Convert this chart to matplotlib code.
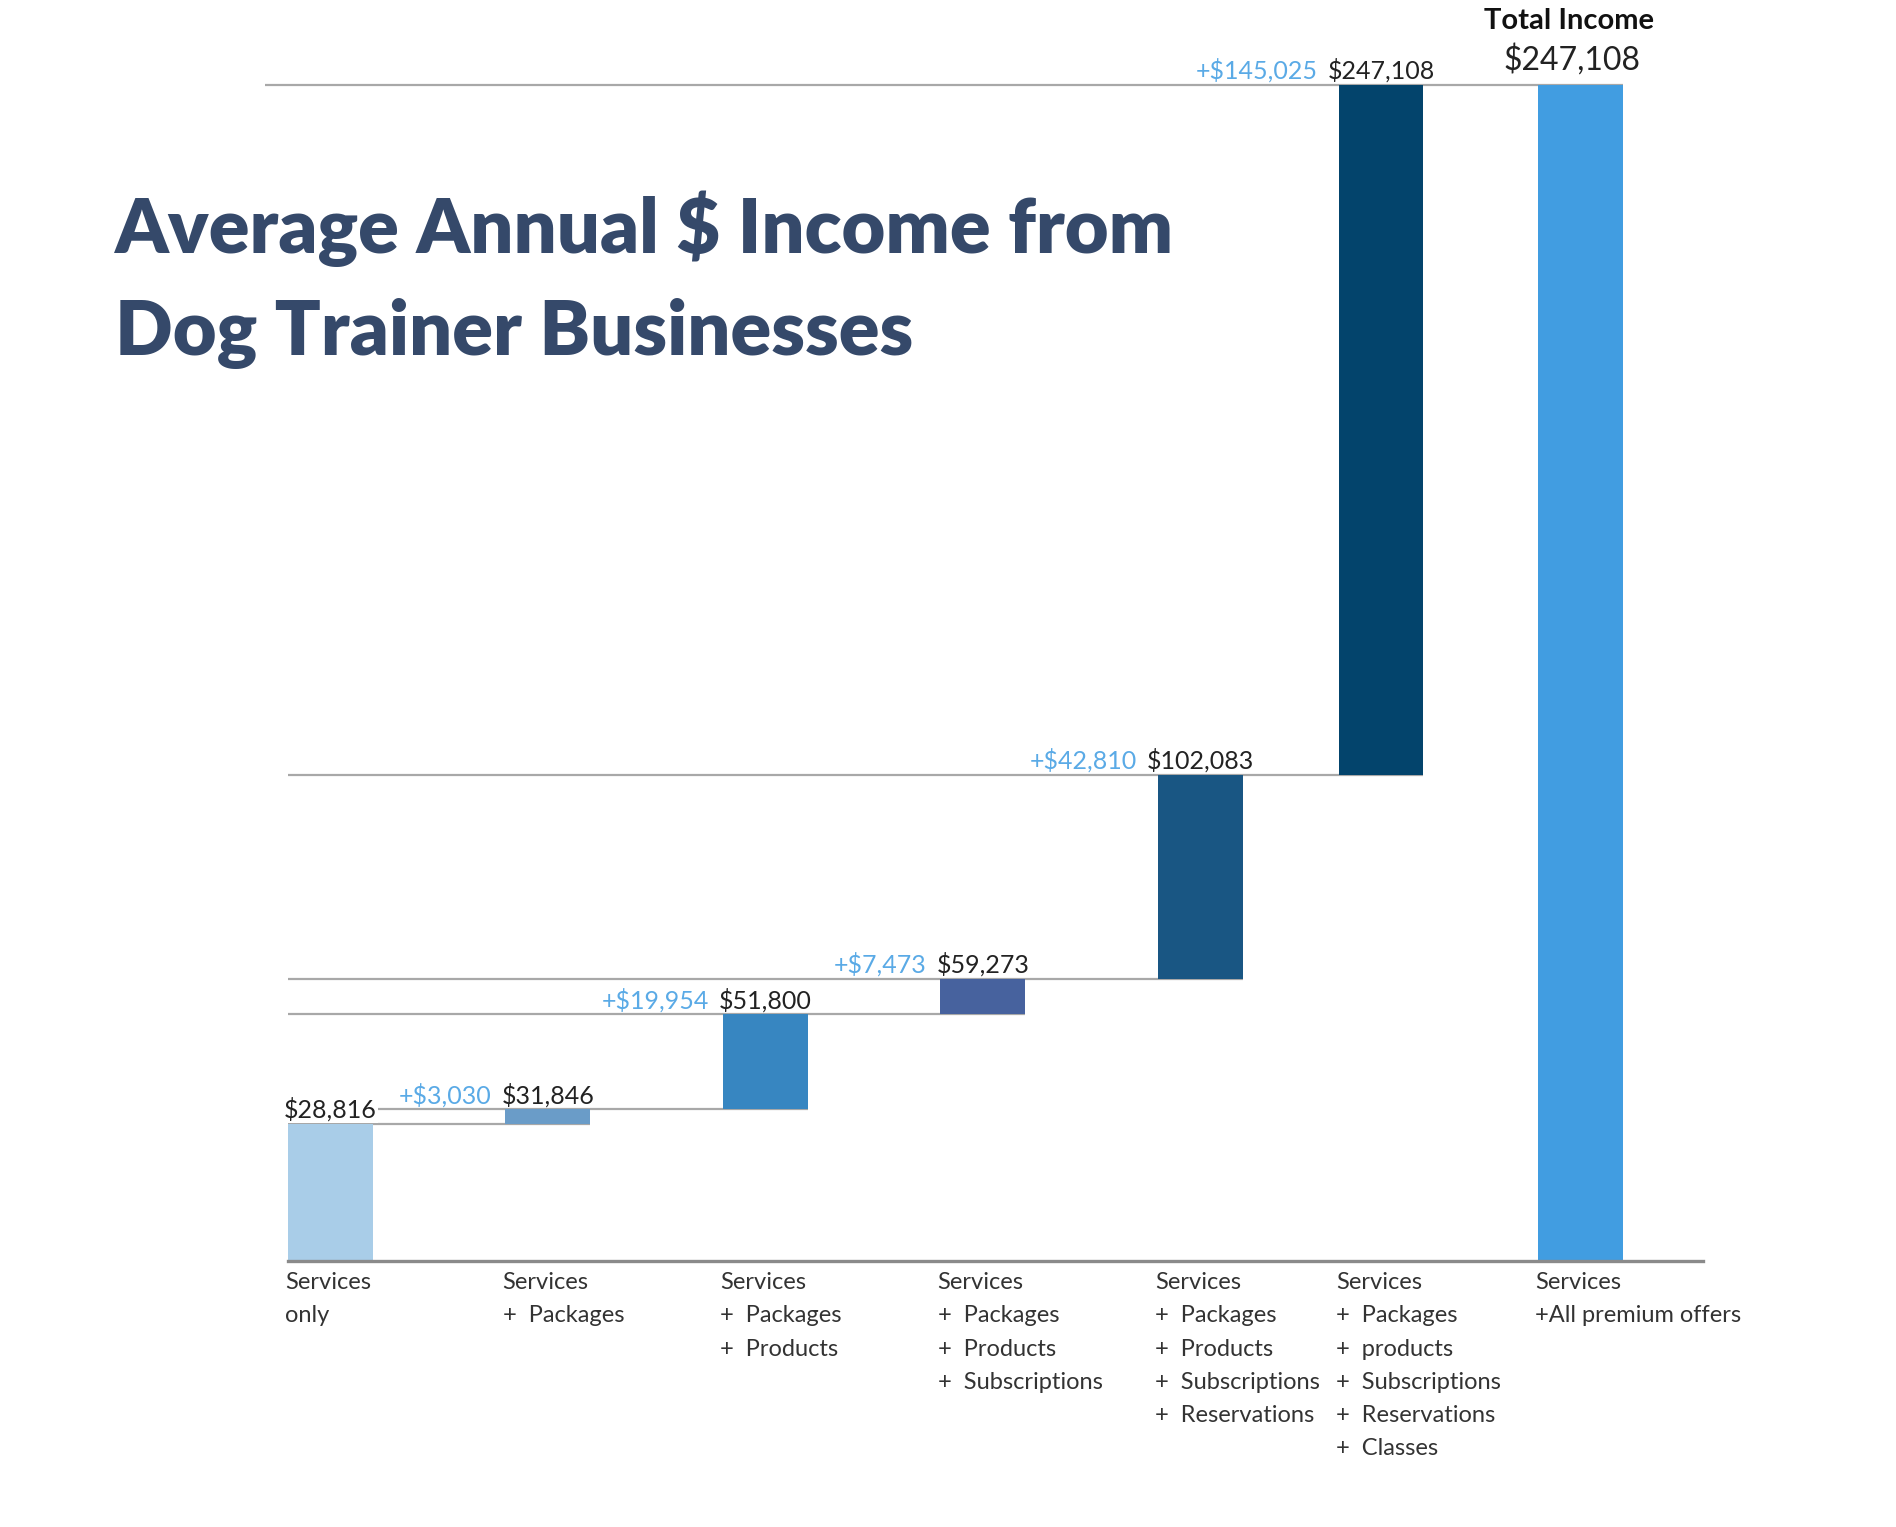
import matplotlib
matplotlib.use("Agg")
import matplotlib.pyplot as plt

plt.rcParams['font.family'] = ['Lato', 'DejaVu Sans']

# data
categories = [
    "Services\nonly",
    "Services\n+  Packages",
    "Services\n+  Packages\n+  Products",
    "Services\n+  Packages\n+  Products\n+  Subscriptions",
    "Services\n+  Packages\n+  Products\n+  Subscriptions\n+  Reservations",
    "Services\n+  Packages\n+  products\n+  Subscriptions\n+  Reservations\n+  Classes",
    "Services\n+All premium offers",
]
totals = [28816, 31846, 51800, 59273, 102083, 247108, 247108]
increments = [None, 3030, 19954, 7473, 42810, 145025, None]
total_title = "Total Income"

# layout / style
bar_x = [0, 1.0, 2.0, 3.0, 4.0, 4.83, 5.745]
bar_w = 0.39
colors = ["#a9cde8", "#6a9cc8", "#3786c1", "#47629e", "#195683", "#03446c", "#419de1"]
title_color = "#35496a"
delta_color = "#5aaae6"
text_color = "#222222"
line_color = "#a8a8a8"

fig = plt.figure(figsize=(18.96, 15.27), dpi=100)
ax = fig.add_axes([288/1896, 1-1261/1527, (1703-288)/1896, (1261-85)/1527])

# bars: first and last start at zero, the rest float on the previous total
bottoms = [0] + totals[:5] + [0]
heights = [totals[0]] + increments[1:6] + [totals[6]]
ax.bar(bar_x, heights, bottom=bottoms, width=bar_w, color=colors, zorder=2)

ax.set_xlim(-0.194, 6.31)
ax.set_ylim(0, totals[-1])

# level lines from the left edge to the right edge of the next bar
for i in range(6):
    x0 = -0.30 if i == 5 else -0.194
    x1 = bar_x[i + 1] + bar_w / 2
    ax.plot([x0, x1], [totals[i], totals[i]], color=line_color, lw=1.6,
            zorder=1, clip_on=False, solid_capstyle='butt')

# value labels
for i in range(6):
    t = ax.annotate(f"${totals[i]:,}", xy=(bar_x[i], totals[i]),
                    xytext=(0, 4.5), textcoords='offset points',
                    ha='center', va='baseline', fontsize=18, color=text_color,
                    zorder=4,
                    bbox=dict(boxstyle='square,pad=0.05', fc='white', ec='none') if i == 0 else None)
    if increments[i] is not None:
        ax.annotate(f"+${increments[i]:,}", xy=(0, 0), xycoords=t,
                    xytext=(-7, 0), textcoords='offset points',
                    ha='right', va='bottom', fontsize=18, color=delta_color)

# total column header
ax.annotate(f"${totals[6]:,}", xy=(bar_x[6], totals[6]), xytext=(-6, 11),
            textcoords='offset points', ha='center', va='baseline',
            fontsize=23, color=text_color)
ax.annotate(total_title, xy=(bar_x[6], totals[6]), xytext=(-8, 40),
            textcoords='offset points', ha='center', va='baseline',
            fontsize=21, fontweight='bold', color="#111111")

# category labels under the bars
for i, lab in enumerate(categories):
    ax.annotate(lab, xy=(bar_x[i] - bar_w / 2, 0), xytext=(-2, -8),
                textcoords='offset points', ha='left', va='top',
                fontsize=17, color="#333333", linespacing=1.72)

ax.set_xticks([])
ax.set_yticks([])
for side in ['top', 'right', 'left']:
    ax.spines[side].set_visible(False)
ax.spines['bottom'].set_color('#8a8a8a')
ax.spines['bottom'].set_linewidth(2.4)

# title
fig.text(115/1896, 1-253/1527, "Average Annual $ Income from", fontsize=54.5,
         fontweight='heavy', color=title_color, ha='left', va='baseline')
fig.text(115/1896, 1-355/1527, "Dog Trainer Businesses", fontsize=54.5,
         fontweight='heavy', color=title_color, ha='left', va='baseline')

fig.savefig("out.png", dpi=100, facecolor='white')
